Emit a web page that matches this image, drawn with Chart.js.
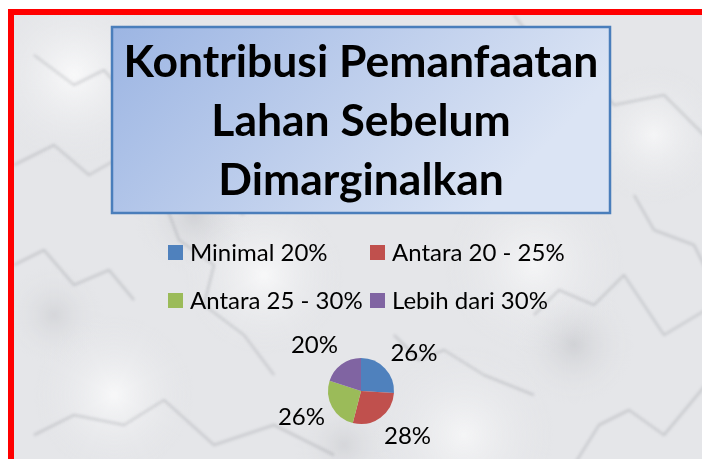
<!DOCTYPE html>
<html>
<head>
<meta charset="utf-8">
<script src="https://cdn.jsdelivr.net/npm/chart.js@4"></script>
<style>
  html, body { margin: 0; padding: 0; width: 702px; height: 459px; overflow: hidden; background: #fff; }
  #frame {
    position: absolute; left: 8px; top: 9px; width: 720px; height: 470px;
    border: 6px solid #ff0000; box-sizing: border-box;
    background-color: #e5e6e9;
    overflow: hidden;
  }
  #marble { position: absolute; left: 0; top: 0; }
  #wrap { position: absolute; left: 0; top: 0; width: 702px; height: 459px; }
</style>
</head>
<body>
<div id="frame"><canvas id="marble" width="708" height="458"></canvas></div>
<div id="wrap"><canvas id="myChart" width="702" height="459"></canvas></div>
<script>
// chart data
const titleLines = ["Kontribusi Pemanfaatan", "Lahan Sebelum", "Dimarginalkan"];
const categories = ["Minimal 20%", "Antara 20 - 25%", "Antara 25 - 30%", "Lebih dari 30%"];
const percentages = [26, 28, 26, 20];
const sliceColors = ["#4F81BD", "#C0504D", "#9BBB59", "#8064A2"];

// soft marble look for the backdrop
function paintMarble() {
  const c = document.querySelector("#marble").getContext("2d");
  const spots = [
    [60, 60, 90, "rgba(255,255,255,0.75)"], [250, 260, 80, "rgba(255,255,255,0.7)"],
    [520, 250, 90, "rgba(255,255,255,0.6)"], [640, 120, 70, "rgba(255,255,255,0.6)"],
    [100, 380, 80, "rgba(255,255,255,0.7)"], [450, 420, 90, "rgba(255,255,255,0.6)"],
    [180, 200, 60, "rgba(150,152,158,0.25)"], [560, 330, 60, "rgba(150,152,158,0.25)"],
    [330, 430, 50, "rgba(150,152,158,0.2)"], [40, 300, 50, "rgba(150,152,158,0.2)"],
  ];
  spots.forEach(([x, y, r, col]) => {
    const g = c.createRadialGradient(x, y, 0, x, y, r);
    g.addColorStop(0, col);
    g.addColorStop(1, "rgba(230,231,234,0)");
    c.fillStyle = g;
    c.fillRect(x - r, y - r, r * 2, r * 2);
  });
  // jagged veins
  const veins = [
    [[0, 150], [40, 130], [75, 160], [110, 140], [150, 185], [190, 175], [230, 200]],
    [[150, 185], [165, 225], [200, 250], [190, 290], [230, 320], [260, 360]],
    [[20, 420], [60, 400], [110, 410], [150, 385], [200, 430], [260, 410], [320, 440]],
    [[500, 0], [530, 40], [570, 55], [600, 90], [650, 80], [700, 130]],
    [[520, 300], [545, 275], [580, 290], [610, 260], [650, 320], [700, 290]],
    [[560, 450], [585, 410], [615, 395], [650, 420], [700, 360]],
    [[380, 320], [405, 345], [430, 335], [470, 360], [520, 380]],
    [[0, 250], [30, 235], [60, 270], [95, 255], [120, 285]],
    [[20, 40], [60, 70], [90, 55], [120, 90]],
    [[620, 180], [640, 215], [680, 230], [700, 270]],
  ];
  c.filter = "blur(1.5px)";
  c.strokeStyle = "rgba(115,118,126,0.3)";
  c.lineWidth = 2;
  c.lineJoin = "round";
  veins.forEach((v) => {
    c.beginPath();
    c.moveTo(v[0][0], v[0][1]);
    v.slice(1).forEach((pt) => c.lineTo(pt[0], pt[1]));
    c.stroke();
  });
}
paintMarble();

// title box behind the title text
const titleBoxPlugin = {
  id: "titleBox",
  beforeDraw(chart) {
    const ctx = chart.ctx;
    ctx.save();
    let grad = ctx.createLinearGradient(112, 27, 400, 300);
    grad.addColorStop(0, "#9cb5e3");
    grad.addColorStop(1, "#dbe4f4");
    ctx.fillStyle = grad;
    ctx.fillRect(112, 27, 498, 186);
    ctx.lineWidth = 2.5;
    ctx.strokeStyle = "#4a7ebb";
    ctx.strokeRect(112, 27, 498, 186);

    ctx.fillStyle = "#000";
    ctx.textAlign = "center";
    ctx.textBaseline = "alphabetic";
    // fit first line to the box width
    let size = 40;
    ctx.font = `bold ${size}px Lato`;
    let w = ctx.measureText(titleLines[0]).width;
    size = size * 475 / w;
    ctx.font = `bold ${size}px Lato`;
    const baselines = [77, 136, 195];
    titleLines.forEach((line, i) => {
      ctx.fillText(line, 361, baselines[i]);
    });
    ctx.restore();
  },
};

// two column legend like the original
const gridLegendPlugin = {
  id: "gridLegend",
  afterDraw(chart) {
    const ctx = chart.ctx;
    const colX = [168, 370];
    const rowY = [252.5, 300.5];
    ctx.save();
    ctx.font = "24px Lato";
    ctx.textBaseline = "middle";
    ctx.textAlign = "left";
    chart.data.labels.forEach((label, i) => {
      const x = colX[i % 2];
      const y = rowY[Math.floor(i / 2)];
      ctx.fillStyle = chart.data.datasets[0].backgroundColor[i];
      ctx.fillRect(x, y - 7.5, 15, 15);
      ctx.fillStyle = "#000";
      ctx.fillText(label, x + 22, y + 1);
    });
    ctx.restore();
  },
};

// percent labels outside each slice, nudged toward the sides like Excel does
const outsideLabels = {
  id: "outsideLabels",
  afterDatasetsDraw(chart) {
    const ctx = chart.ctx;
    const meta = chart.getDatasetMeta(0);
    ctx.save();
    ctx.font = "24px Lato";
    ctx.fillStyle = "#000";
    ctx.textAlign = "center";
    ctx.textBaseline = "middle";
    meta.data.forEach((arc, i) => {
      const p = arc.getProps(["x", "y", "startAngle", "endAngle", "outerRadius"], true);
      let mid = (p.startAngle + p.endAngle) / 2;
      const side = Math.cos(mid) >= 0 ? 0 : Math.PI;
      let diff = Math.atan2(Math.sin(side - mid), Math.cos(side - mid));
      mid += diff * 0.18;
      const r = p.outerRadius + 32;
      ctx.fillText(percentages[i] + "%", p.x + Math.cos(mid) * r, p.y + Math.sin(mid) * r);
    });
    ctx.restore();
  },
};

const config = {
  type: "pie",
  data: {
    labels: categories,
    datasets: [
      {
        data: percentages,
        backgroundColor: sliceColors,
        borderWidth: 0,
      },
    ],
  },
  options: {
    responsive: false,
    animation: false,
    layout: {
      padding: { left: 328, right: 308, top: 358, bottom: 35 },
    },
    plugins: {
      legend: { display: false },
      title: { display: false },
      tooltip: { enabled: false },
    },
  },
  plugins: [titleBoxPlugin, gridLegendPlugin, outsideLabels],
};

document.fonts.load("bold 40px Lato").then(() => document.fonts.load("24px Lato")).then(() => {
  new Chart(document.querySelector("#myChart"), config);
});
</script>
</body>
</html>
